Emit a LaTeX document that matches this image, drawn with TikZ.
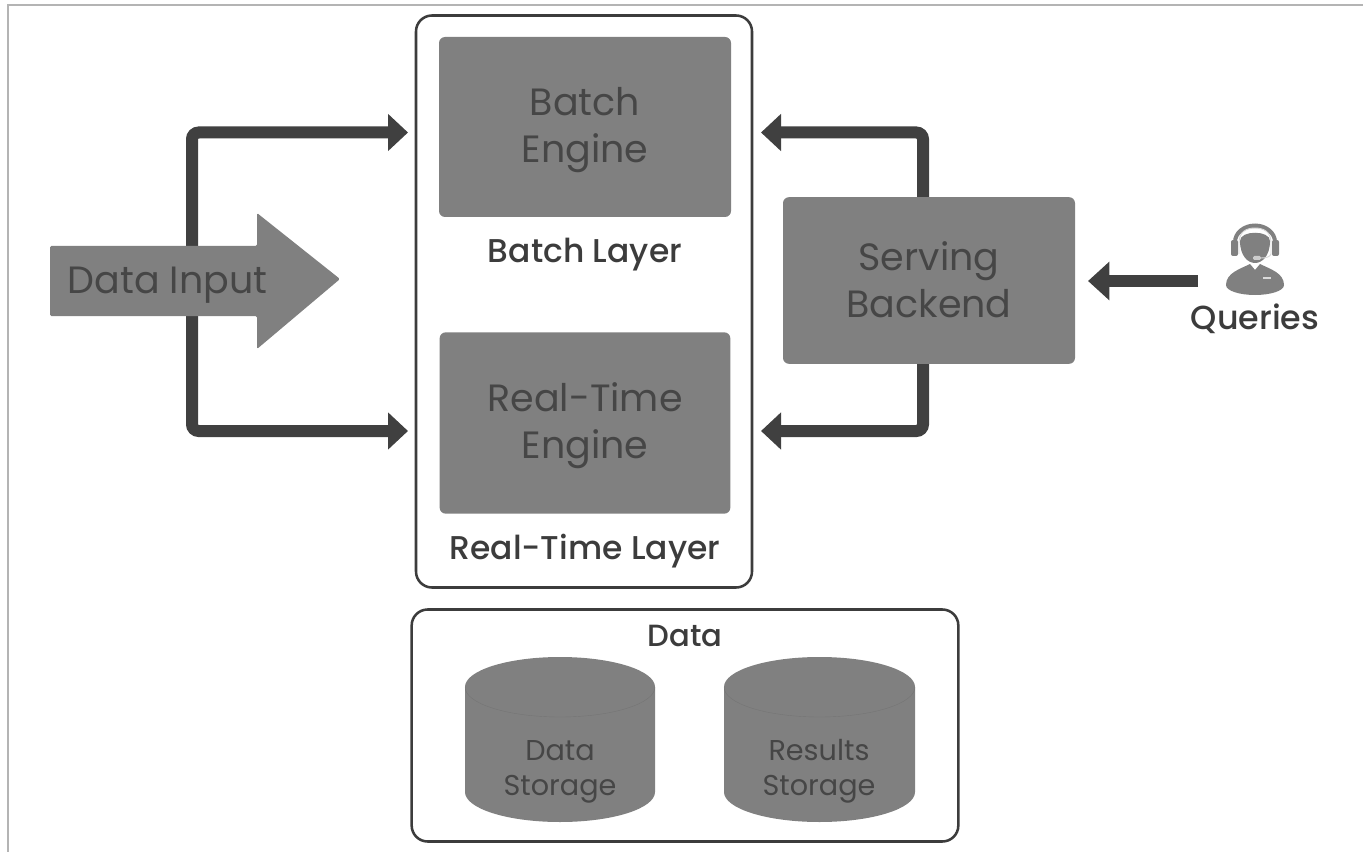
\documentclass[tikz,border=0pt]{standalone}
\usepackage{fontspec}
\setmainfont{Poppins}
\newfontfamily\labelfont{Poppins Medium}
\usetikzlibrary{arrows.meta}
\definecolor{fillgray}{HTML}{808080}
\definecolor{inktext}{HTML}{464646}
\definecolor{darkline}{HTML}{404040}
\definecolor{framegray}{HTML}{B4B4B4}
\definecolor{labelink}{HTML}{3C3C3C}
\tikzset{
  engine/.style={fill=fillgray,rounded corners=4.5pt,draw=none,inner sep=0pt},
  enginetext/.style={inner sep=0pt,align=center,text=inktext,font=\fontsize{28.5}{35}\selectfont},
  panel/.style={draw=labelink,line width=1.9pt,rounded corners=12pt,fill=white,inner sep=0pt},
  layerlabel/.style={text=labelink,font=\labelfont\fontsize{24.7}{28}\selectfont,inner sep=0pt},
  storelabel/.style={text=inktext,align=center,font=\fontsize{21.5}{26}\selectfont,inner sep=0pt},
  thickflow/.style={draw=darkline,line width=9pt,rounded corners=5pt,-{Triangle[length=15pt,width=27pt]}},
  barrel/.style={fill=fillgray,draw=none},
}
\begin{document}
\begin{tikzpicture}[x=0.75pt,y=-0.75pt]
\useasboundingbox (0,0) rectangle (1363,852);
\fill[white] (0,0) rectangle (1363,852);
\draw[framegray,line width=1.2pt] (8,852) -- (8,5) -- (1363,5);

% panels
\node[panel,minimum width=252pt,minimum height=429pt] (layers) at (584,301.5) {};
\node[panel,minimum width=410pt,minimum height=174pt] (data) at (685,725.5) {};

% engines
\node[engine,minimum width=219pt,minimum height=135pt] (batch) at (585,127) {};
\node[engine,minimum width=218pt,minimum height=136pt] (rt) at (585,423) {};
\node[engine,minimum width=219pt,minimum height=125pt] (serve) at (929,280.5) {};
\node[enginetext] (batcht) at (585,130) {Batch\\Engine};
\node[enginetext] (rtt) at (585,426) {Real-Time\\Engine};
\node[enginetext] (servet) at (929,280) {Serving\\Backend};
\node[layerlabel] (batchlabel) at (585,255) {Batch Layer};
\node[layerlabel] (rtlabel) at (585,551) {Real-Time Layer};
\node[layerlabel,font=\labelfont\fontsize{23}{26}\selectfont] (datalabel) at (685,636) {Data};

% connector anchor points
\coordinate (fork) at (192,280);
\coordinate (inA) at (408,132.5);
\coordinate (inB) at (408,431);
\coordinate (outA) at (923,197);
\coordinate (outB) at (923,364);
\coordinate (backA) at (761,132.5);
\coordinate (backB) at (761,431);
\coordinate (qstart) at (1198,281);
\coordinate (qend) at (1088,281);

\draw[thickflow] (fork) |- (inA);
\draw[thickflow] (fork) |- (inB);
\draw[thickflow] (outA) |- (backA);
\draw[thickflow] (outB) |- (backB);
\draw[draw=darkline,line width=8.5pt,-{Triangle[length=16pt,width=28pt]}] (qstart) -- (qend);

% data input arrow
\fill[fillgray,rounded corners=1pt] (50,246) -- (257,246) -- (257,213) -- (340,279) -- (257,349) -- (257,316) -- (50,316) -- cycle;
\node[text=inktext,font=\fontsize{28.5}{32}\selectfont,inner sep=0pt] (input) at (167.5,285) {Data Input};

% cylinders
\fill[barrel] (465,687) arc[start angle=180,end angle=360,x radius=95,y radius=30] -- (655,792) arc[start angle=0,end angle=180,x radius=95,y radius=30] -- cycle;
\fill[barrel] (724,687) arc[start angle=180,end angle=360,x radius=95.5,y radius=30] -- (915,792) arc[start angle=0,end angle=180,x radius=95.5,y radius=30] -- cycle;
\draw[black!60!fillgray,line width=.3pt,opacity=.15] (465,687) arc[start angle=180,end angle=0,x radius=95,y radius=30];
\draw[black!60!fillgray,line width=.3pt,opacity=.15] (724,687) arc[start angle=180,end angle=0,x radius=95.5,y radius=30];
\node[storelabel] (dstore) at (560,772) {Data\\Storage};
\node[storelabel] (rstore) at (819,771) {Results\\Storage};

% person icon
\fill[fillgray] (1226,285) .. controls (1226,273) and (1240,269) .. (1250,264) -- (1255,270) -- (1260,264) .. controls (1270,269) and (1284,273) .. (1284,285) .. controls (1284,291) and (1270,295) .. (1255,295) .. controls (1240,295) and (1226,291) .. (1226,285) -- cycle;
\fill[fillgray] (1233,242) arc[start angle=180,end angle=360,x radius=22,y radius=18.5] -- (1273,242) arc[start angle=360,end angle=180,x radius=18,y radius=14] -- cycle;
\fill[fillgray] (1240,241) .. controls (1240,230) and (1270,230) .. (1270,241) .. controls (1270,256) and (1262,263) .. (1255,263) .. controls (1248,263) and (1240,256) .. (1240,241) -- cycle;
\fill[fillgray,rounded corners=1.5pt] (1231,240) rectangle (1238,256);
\fill[fillgray,rounded corners=1.5pt] (1272,240) rectangle (1279,256);
\draw[white!70!fillgray,line width=.7pt] (1239,254) -- (1239,243) .. controls (1239,232) and (1246,228) .. (1255,228) .. controls (1264,228) and (1271,232) .. (1271,243) -- (1271,254);
\draw[white!70!fillgray,line width=.7pt] (1271,254) .. controls (1270,257) and (1266,258) .. (1261,258);
\fill[white!60!fillgray,rounded corners=1pt] (1253,256) rectangle (1261,260);
\fill[white!70!fillgray] (1263,277) rectangle (1271,279);
\node[text=labelink,font=\labelfont\fontsize{25}{28}\selectfont,inner sep=0pt] (queries) at (1255,319) {Queries};
\end{tikzpicture}
\end{document}
